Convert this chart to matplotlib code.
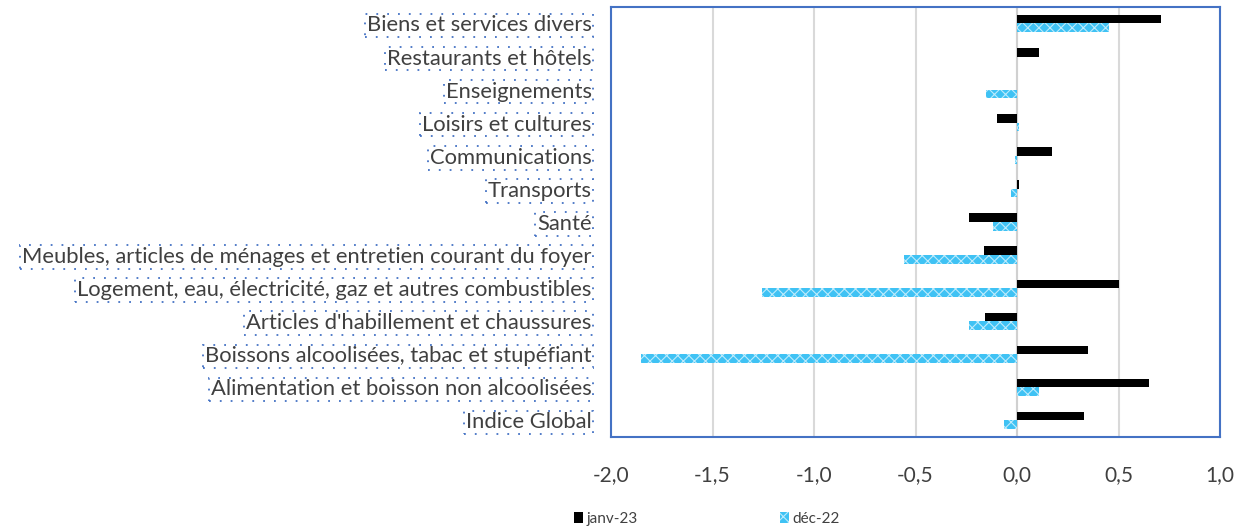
import matplotlib.pyplot as plt
import numpy as np

plt.rcParams['font.family'] = ['Lato', 'DejaVu Sans']
plt.rcParams['hatch.linewidth'] = 0.8

# categories listed bottom to top
categories = [
    'Indice Global',
    'Alimentation et boisson non alcoolisées',
    'Boissons alcoolisées, tabac et stupéfiant',
    "Articles d'habillement et chaussures",
    'Logement, eau, électricité, gaz et autres combustibles',
    'Meubles, articles de ménages et entretien courant du foyer',
    'Santé',
    'Transports',
    'Communications',
    'Loisirs et cultures',
    'Enseignements',
    'Restaurants et hôtels',
    'Biens et services divers',
]
janv_23 = [0.33, 0.65, 0.35, -0.16, 0.50, -0.165, -0.235, 0.012, 0.17, -0.097, 0.0, 0.107, 0.71]
dec_22 = [-0.062, 0.11, -1.85, -0.236, -1.257, -0.556, -0.12, -0.028, -0.012, 0.008, -0.151, 0.0, 0.455]
xticks = [-2.0, -1.5, -1.0, -0.5, 0.0, 0.5, 1.0]

fig = plt.figure(figsize=(12.48, 5.31), dpi=100)
ax = fig.add_axes([0.4896, 0.177, 0.488, 0.81])

y = np.arange(len(categories))
h = 0.26
ax.barh(y + h / 2, janv_23, height=h, color='black', label='janv-23', zorder=3)
ax.barh(y - h / 2, dec_22, height=h, color='#3FC2F4', edgecolor='#BDEBFC',
        hatch='xxx', linewidth=0, label='déc-22', zorder=3)

ax.set_xlim(-2.0, 1.0)
ax.set_ylim(-0.5, len(categories) - 0.5)
ax.set_xticks(xticks)
ax.set_xticklabels([f'{v:.1f}'.replace('.', ',') for v in xticks])
ax.set_yticks(y)
ax.set_yticklabels(categories)
ax.grid(axis='x', color='#D9D9D9', linewidth=1.5, zorder=0)
ax.axvline(0, color='#D0D0D0', linewidth=1.5, zorder=2)

ax.tick_params(axis='both', length=0, labelcolor='#404040')
ax.tick_params(axis='x', pad=20, labelsize=15)
ax.tick_params(axis='y', pad=14, labelsize=15.8)
for lbl in ax.get_yticklabels():
    lbl.set_bbox(dict(boxstyle='square,pad=0.08', fc='none', ec='#4472C4',
                      linestyle=(0, (1, 5)), linewidth=1.3))

for s in ax.spines.values():
    s.set_color('#4472C4')
    s.set_linewidth(1.5)

fig.legend(loc='lower left', bbox_to_anchor=(0.449, -0.016), ncol=2, frameon=False,
           fontsize=11, labelcolor='#404040', handlelength=0.6, handleheight=0.8,
           handletextpad=0.2, columnspacing=9.3)

fig.savefig('out.png', dpi=100)
